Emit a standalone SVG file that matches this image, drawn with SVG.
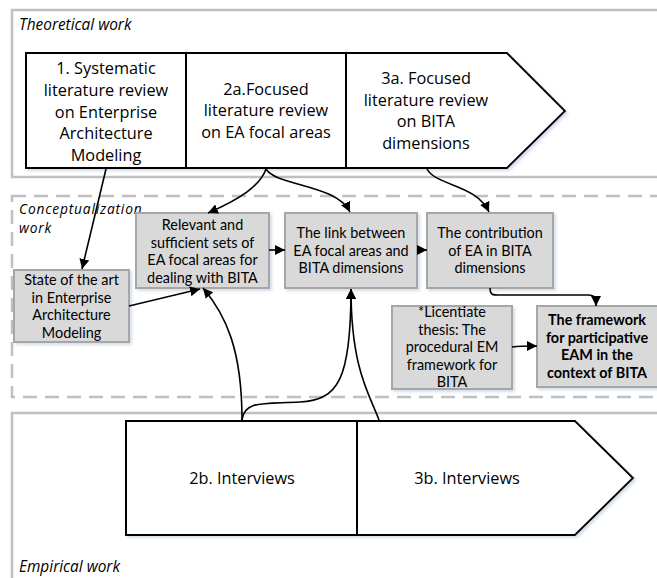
<svg xmlns="http://www.w3.org/2000/svg" width="657" height="578" viewBox="0 0 657 578">
<defs>
<marker id="arr" markerUnits="userSpaceOnUse" markerWidth="11" markerHeight="10" refX="10" refY="5" orient="auto">
<path d="M0,0 L10,5 L0,10 z" fill="#000"/>
</marker>
<filter id="sh" x="-10%" y="-10%" width="130%" height="130%">
<feDropShadow dx="2" dy="2" stdDeviation="1.5" flood-color="#9fb4d0" flood-opacity="0.45"/>
</filter>
</defs>
<style>
.cont{fill:#fff;stroke:#c0c0c0;stroke-width:2.5}
.dash{fill:#fff;stroke:#c0c0c0;stroke-width:2.5;stroke-dasharray:14 8}
.lab{font-family:"Open Sans","Noto Sans",sans-serif;font-style:italic;font-size:15.4px;fill:#000}
.lab2{font-size:13.8px;letter-spacing:0.8px}
.chev{fill:#fff;stroke:#000;stroke-width:2;filter:url(#sh)}
.ct{font-family:"Open Sans","Noto Sans",sans-serif;font-size:16.3px;fill:#000;text-anchor:middle}
.gb{fill:#d9d9d9;stroke:#a6a6a6;stroke-width:2;filter:url(#sh)}
.gt{font-family:Lato,"Open Sans",sans-serif;font-size:14.4px;fill:#000;text-anchor:middle}
.bt{font-weight:bold;font-size:14.4px}
.cn{fill:none;stroke:#000;stroke-width:1.6;marker-end:url(#arr)}
</style>
<rect width="657" height="578" fill="#fff"/>

<g id="theoretical">
<rect class="cont" x="12" y="10" width="660" height="167"/>
<text class="lab" x="19" y="30">Theoretical work</text>
</g>
<g id="conceptualization">
<rect class="dash" x="12" y="196" width="660" height="201"/>
<text class="lab lab2" x="19" y="214">Conceptualization</text>
<text class="lab lab2" x="19" y="233">work</text>
</g>
<g id="empirical">
<rect class="cont" x="12" y="413" width="660" height="180"/>
<text class="lab" x="19" y="572">Empirical work</text>
</g>

<g id="chevron-top">
<path class="chev" d="M26,53 L507,53 L565,111 L507,168 L26,168 z"/>
<line x1="186" y1="53" x2="186" y2="168" stroke="#000" stroke-width="2"/>
<line x1="346" y1="53" x2="346" y2="168" stroke="#000" stroke-width="2"/>
</g>
<g id="n1">
<text class="ct"><tspan x="106" y="74">1. Systematic</tspan><tspan x="106" y="96">literature review</tspan><tspan x="106" y="118">on Enterprise</tspan><tspan x="106" y="139">Architecture</tspan><tspan x="106" y="161">Modeling</tspan></text>
</g>
<g id="n2a">
<text class="ct"><tspan x="266" y="95">2a.Focused</tspan><tspan x="266" y="116">literature review</tspan><tspan x="266" y="138">on EA focal areas</tspan></text>
</g>
<g id="n3a">
<text class="ct"><tspan x="426" y="84">3a. Focused</tspan><tspan x="426" y="106">literature review</tspan><tspan x="426" y="127">on BITA</tspan><tspan x="426" y="149">dimensions</tspan></text>
</g>

<g id="chevron-bottom">
<path class="chev" d="M126,421 L575,421 L633,478 L575,535 L126,535 z"/>
<line x1="357" y1="421" x2="357" y2="535" stroke="#000" stroke-width="2"/>
</g>
<g id="n2b"><text class="ct" x="242" y="484">2b. Interviews</text></g>
<g id="n3b"><text class="ct" x="467" y="484">3b. Interviews</text></g>

<g id="state">
<rect class="gb" x="14" y="270" width="115" height="72"/>
<text class="gt"><tspan x="71.5" y="285">State of the art</tspan><tspan x="71.5" y="302.5">in Enterprise</tspan><tspan x="71.5" y="320">Architecture</tspan><tspan x="71.5" y="337.5">Modeling</tspan></text>
</g>
<g id="relevant">
<rect class="gb" x="136" y="213" width="133" height="75"/>
<text class="gt"><tspan x="202.5" y="230">Relevant and</tspan><tspan x="202.5" y="247.5">sufficient sets of</tspan><tspan x="202.5" y="265">EA focal areas for</tspan><tspan x="202.5" y="282.5">dealing with BITA</tspan></text>
</g>
<g id="link">
<rect class="gb" x="285" y="213" width="132" height="75"/>
<text class="gt"><tspan x="351" y="238">The link between</tspan><tspan x="351" y="255.5">EA focal areas and</tspan><tspan x="351" y="273">BITA dimensions</tspan></text>
</g>
<g id="contribution">
<rect class="gb" x="427" y="213" width="126" height="75"/>
<text class="gt"><tspan x="490" y="238">The contribution</tspan><tspan x="490" y="255.5">of EA in BITA</tspan><tspan x="490" y="273">dimensions</tspan></text>
</g>
<g id="licentiate">
<rect class="gb" x="392" y="306" width="120" height="83"/>
<text class="gt"><tspan x="452" y="317">*Licentiate</tspan><tspan x="452" y="334.5">thesis: The</tspan><tspan x="452" y="352">procedural EM</tspan><tspan x="452" y="369.5">framework for</tspan><tspan x="452" y="387">BITA</tspan></text>
</g>
<g id="framework">
<rect class="gb" x="537" y="306" width="125" height="81"/>
<text class="gt bt"><tspan x="597" y="325">The framework</tspan><tspan x="597" y="342.5">for participative</tspan><tspan x="597" y="360">EAM in the</tspan><tspan x="597" y="377.5">context of BITA</tspan></text>
</g>

<g id="connectors">
<path class="cn" d="M106,169 L82,269"/>
<path class="cn" d="M266,169 C260,186 240,199 208,213"/>
<path class="cn" d="M266,169 C276,186 336,184 350,212"/>
<path class="cn" d="M427,169 C436,186 476,184 489,212"/>
<path class="cn" d="M129,306 L200,289"/>
<path class="cn" d="M269,250 L285,250"/>
<path class="cn" d="M417,250 L427,250"/>
<path class="cn" d="M490,288 C490,296 494,295 502,295 L588,295 C595,295 596,298 596,306"/>
<path class="cn" d="M512,347 C520,346 526,346 537,346"/>
<path class="cn" d="M242,420 C242,350 226,315 203,288"/>
<path class="cn" d="M242,420 C244,400 265,404 300,402 C338,400 351,380 351,289"/>
<path class="cn" d="M379,420 C370,395 351,370 351,289"/>
</g>
</svg>
